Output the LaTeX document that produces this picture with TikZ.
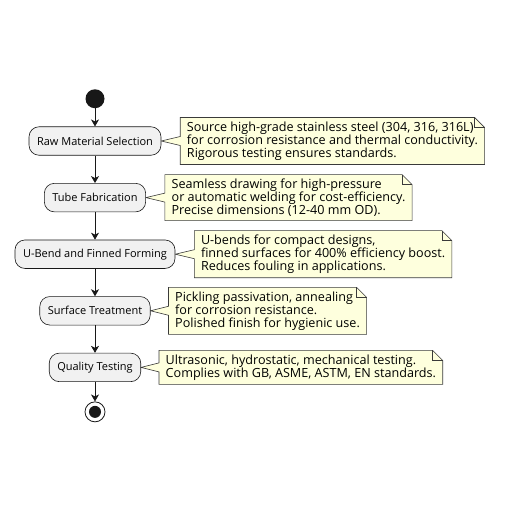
\documentclass[tikz,border=0pt]{standalone}
\usepackage{fontspec}
\setmainfont{Open Sans}
\usetikzlibrary{positioning,arrows.meta,backgrounds}
\definecolor{act-fill}{HTML}{F1F1F1}
\definecolor{act-line}{HTML}{181818}
\definecolor{note-fill}{HTML}{FEFFDD}
\definecolor{note-line}{HTML}{3A3A3A}

% note outline with folded corner and wedge to its activity
\newcommand{\notecallout}[2]{%
  \begin{pgfonlayer}{background}
    \filldraw[fill=note-fill, draw=note-line, line width=0.6pt]
      (#1.north west) -- ([xshift=-10pt]#1.north east) -- ([yshift=-10pt]#1.north east)
      -- (#1.south east) -- (#1.south west) -- ([yshift=-4.5pt]#1.west)
      -- (#2.east) -- ([yshift=4.5pt]#1.west) -- cycle;
    \draw[draw=note-line, line width=0.6pt]
      ([xshift=-10pt]#1.north east) |- ([yshift=-10pt]#1.north east);
  \end{pgfonlayer}}

\begin{document}
\begin{tikzpicture}[node distance=27.5pt,
    act/.style={rectangle, rounded corners=10pt, fill=act-fill, draw=act-line, line width=0.6pt,
      minimum height=28.5pt, inner xsep=8pt, font=\fontsize{11}{12}\selectfont},
    note/.style={align=left, inner xsep=6.5pt, inner ysep=4pt, font=\fontsize{12.6}{13}\selectfont},
    flow/.style={-{Stealth[length=7pt, width=8pt, inset=2pt]}, line width=0.8pt, draw=act-line}]
    \useasboundingbox (0,0) rectangle (512pt,-512pt);

    \node[act] (raw) at (95pt,-141pt) {Raw Material Selection};
    \node[act, below=of raw] (tube) {Tube Fabrication};
    \node[act, below=of tube] (ubend) {U-Bend and Finned Forming};
    \node[act, below=of ubend] (surface) {Surface Treatment};
    \node[act, below=of surface] (quality) {Quality Testing};
    \node[circle, fill=act-line, minimum size=19pt, inner sep=0pt, above=18pt of raw] (start) {};
    \node[circle, draw=act-line, fill=white, line width=0.8pt, minimum size=20pt, inner sep=0pt, below=19.5pt of quality] (stop) {};
    \node[circle, fill=act-line, minimum size=12pt, inner sep=0pt] at (stop) (stopdot) {};

    \node[note, right=19pt of raw] (rawnote) {Source high-grade stainless steel (304, 316, 316L)\\for corrosion resistance and thermal conductivity.\\Rigorous testing ensures standards.};
    \node[note, right=19pt of tube] (tubenote) {Seamless drawing for high-pressure\\or automatic welding for cost-efficiency.\\Precise dimensions (12-40 mm OD).};
    \node[note, right=19pt of ubend] (ubendnote) {U-bends for compact designs,\\finned surfaces for 400\% efficiency boost.\\Reduces fouling in applications.};
    \node[note, right=18pt of surface] (surfacenote) {Pickling passivation, annealing\\for corrosion resistance.\\Polished finish for hygienic use.};
    \node[note, right=18pt of quality] (qualitynote) {Ultrasonic, hydrostatic, mechanical testing.\\Complies with GB, ASME, ASTM, EN standards.};

    \notecallout{rawnote}{raw}
    \notecallout{tubenote}{tube}
    \notecallout{ubendnote}{ubend}
    \notecallout{surfacenote}{surface}
    \notecallout{qualitynote}{quality}

    \draw[flow] (start) -- (raw);
    \draw[flow] (raw) -- (tube);
    \draw[flow] (tube) -- (ubend);
    \draw[flow] (ubend) -- (surface);
    \draw[flow] (surface) -- (quality);
    \draw[flow] (quality) -- (stop);
\end{tikzpicture}
\end{document}
